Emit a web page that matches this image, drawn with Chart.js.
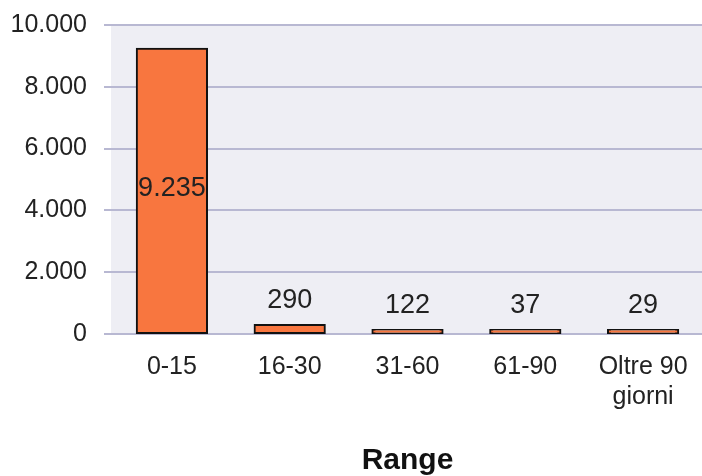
<!DOCTYPE html>
<html>
<head>
<meta charset="utf-8">
<script src="https://cdn.jsdelivr.net/npm/chart.js@4.4.0/dist/chart.umd.min.js"></script>
<style>
    html, body { margin: 0; padding: 0; background: #ffffff; }
    #wrap { width: 702px; height: 476px; position: relative; }
</style>
</head>
<body>
<div id="wrap"><canvas id="rangeChart"></canvas></div>
<script>
// ===== DATA =====
const categories = ['0-15', '16-30', '31-60', '61-90', ['Oltre 90', 'giorni']];
const counts = [9235, 290, 122, 37, 29];
const yTicks = [0, 2000, 4000, 6000, 8000, 10000];
const axisTitle = 'Range';

// 10000 -> "10.000"
function fmt(v) {
    return String(v).replace(/\B(?=(\d{3})+(?!\d))/g, '.');
}

const FONT = "'Liberation Sans', Arial, sans-serif";

// light plot background
const plotBackground = {
    id: 'plotBackground',
    beforeDraw(chart) {
        const a = chart.chartArea;
        const ctx = chart.ctx;
        ctx.save();
        ctx.fillStyle = '#eeeef4';
        ctx.fillRect(a.left - 2, a.top, a.right - a.left + 4, a.bottom - a.top);
        ctx.restore();
    }
};

// value labels: inside tall bars, above short ones
const valueLabels = {
    id: 'valueLabels',
    afterDatasetsDraw(chart) {
        const ctx = chart.ctx;
        const meta = chart.getDatasetMeta(0);
        ctx.save();
        ctx.font = '27px ' + FONT;
        ctx.fillStyle = '#222222';
        ctx.textAlign = 'center';
        meta.data.forEach((bar, i) => {
            const txt = fmt(counts[i]);
            const h = bar.base - bar.y;
            if (h > 60) {
                ctx.textBaseline = 'middle';
                ctx.fillText(txt, bar.x, (bar.y + bar.base) / 2 - 2);
            } else {
                ctx.textBaseline = 'alphabetic';
                ctx.fillText(txt, bar.x, bar.y - 17);
            }
        });
        ctx.restore();
    }
};

new Chart(document.getElementById('rangeChart'), {
    type: 'bar',
    data: {
        labels: categories,
        datasets: [{
            data: counts,
            backgroundColor: '#f8763f',
            borderColor: '#111111',
            borderWidth: 2,
            borderSkipped: false,
            inflateAmount: 1,
            minBarLength: 4,
            categoryPercentage: 1,
            barPercentage: 0.596
        }]
    },
    options: {
        responsive: true,
        maintainAspectRatio: false,
        animation: false,
        layout: { padding: { top: 25, right: 0, bottom: 0, left: 0 } },
        plugins: {
            legend: { display: false },
            tooltip: { enabled: false }
        },
        scales: {
            x: {
                grid: { display: false, drawTicks: false },
                border: { display: false },
                ticks: {
                    color: '#222222',
                    font: { family: FONT, size: 25, lineHeight: 1.2 },
                    padding: 18,
                    maxRotation: 0,
                    autoSkip: false
                },
                title: {
                    display: true,
                    text: axisTitle,
                    color: '#111111',
                    font: { family: FONT, size: 30, weight: 'bold' },
                    padding: { top: 0, bottom: -3 }
                },
                afterFit(scale) {
                    scale.height = 142;
                    scale.paddingLeft = 0;
                    scale.paddingRight = 0;
                }
            },
            y: {
                min: 0,
                max: 10000,
                afterBuildTicks(scale) {
                    scale.ticks = yTicks.map(v => ({ value: v }));
                },
                grid: {
                    color: '#b8b8d2',
                    lineWidth: 2,
                    tickLength: 9,
                    drawTicks: true
                },
                border: { display: false },
                ticks: {
                    color: '#222222',
                    font: { family: FONT, size: 25 },
                    padding: 17,
                    callback: v => fmt(v)
                },
                afterFit(scale) {
                    scale.width = 113;
                    scale.paddingTop = 0;
                    scale.paddingBottom = 0;
                }
            }
        }
    },
    plugins: [plotBackground, valueLabels]
});
</script>
</body>
</html>
